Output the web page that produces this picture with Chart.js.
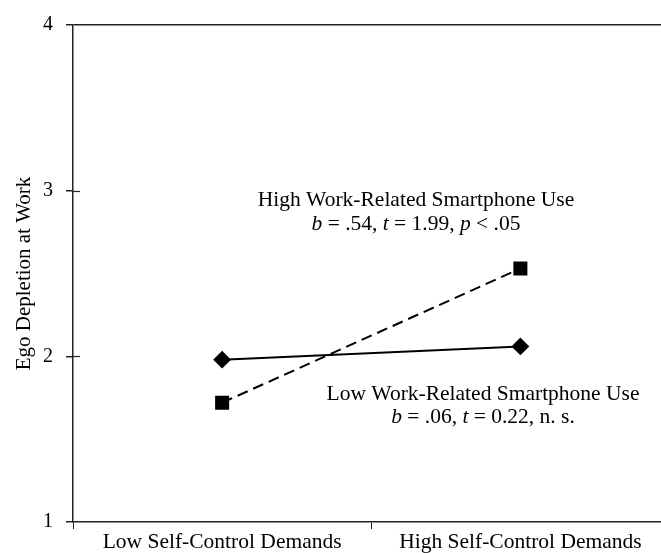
<!DOCTYPE html>
<html>
<head>
<meta charset="utf-8">
<script src="https://cdn.jsdelivr.net/npm/chart.js@4.4.0/dist/chart.umd.min.js"></script>
<style>
  html, body { margin: 0; padding: 0; background: #fff; overflow: hidden; }
</style>
</head>
<body>
<canvas id="myChart" width="680" height="553"></canvas>
<script>
const categories = ["Low Self-Control Demands", "High Self-Control Demands"];
const highUse = [1.72, 2.53];
const lowUse = [1.98, 2.06];
const yTicks = [1, 2, 3, 4];

const ink = "#222";
const serif = '"Liberation Serif", "Times New Roman", serif';

Chart.defaults.font.family = serif;
Chart.defaults.font.size = 20;
Chart.defaults.color = "#000";

// annotation text, italic for the statistic letters
const notes = [
  {
    dx: 343, dy: [181, 205],
    lines: [
      [{ t: "High Work-Related Smartphone Use" }],
      [{ t: "b", i: true }, { t: " = .54, " }, { t: "t", i: true }, { t: " = 1.99, " }, { t: "p", i: true }, { t: " < .05" }],
    ],
  },
  {
    dx: 410, dy: [375, 398],
    lines: [
      [{ t: "Low Work-Related Smartphone Use" }],
      [{ t: "b", i: true }, { t: " = .06, " }, { t: "t", i: true }, { t: " = 0.22, n. s." }],
    ],
  },
];

const notePlugin = {
  id: "notes",
  afterDatasetsDraw(chart) {
    const { ctx, chartArea } = chart;
    const y = chart.scales.y;
    ctx.save();
    // the middle y ticks cross the axis
    ctx.strokeStyle = ink;
    ctx.lineWidth = 1.2;
    [2, 3].forEach((v) => {
      const py = Math.round(y.getPixelForValue(v)) + 0.5;
      ctx.beginPath();
      ctx.moveTo(chartArea.left, py);
      ctx.lineTo(chartArea.left + 7, py);
      ctx.stroke();
    });

    ctx.fillStyle = "#000";
    ctx.textBaseline = "alphabetic";
    notes.forEach((n) => {
      n.lines.forEach((line, k) => {
        let w = 0;
        line.forEach((s) => {
          ctx.font = (s.i ? "italic " : "") + "21.5px " + serif;
          w += ctx.measureText(s.t).width;
        });
        let x = chartArea.left + n.dx - w / 2;
        const ty = chartArea.top + n.dy[k];
        line.forEach((s) => {
          ctx.font = (s.i ? "italic " : "") + "21.5px " + serif;
          ctx.fillText(s.t, x, ty);
          x += ctx.measureText(s.t).width;
        });
      });
    });
    ctx.restore();
  },
};

new Chart(document.querySelector("#myChart"), {
  type: "line",
  data: {
    labels: categories,
    datasets: [
      {
        label: "High Work-Related Smartphone Use",
        data: highUse,
        borderColor: "#000",
        backgroundColor: "#000",
        borderWidth: 2,
        borderDash: [11, 6],
        pointStyle: "rect",
        pointRadius: 8.5,
        pointHoverRadius: 8.5,
      },
      {
        label: "Low Work-Related Smartphone Use",
        data: lowUse,
        borderColor: "#000",
        backgroundColor: "#000",
        borderWidth: 2,
        pointStyle: "rectRot",
        pointRadius: 7.5,
        pointHoverRadius: 7.5,
      },
    ],
  },
  options: {
    responsive: false,
    animation: false,
    layout: { padding: { left: 0, top: 23, right: 9, bottom: 0 } },
    plugins: {
      legend: { display: false },
      tooltip: { enabled: false },
    },
    scales: {
      x: {
        offset: true,
        grid: {
          offset: true,
          drawOnChartArea: false,
          tickColor: ink,
          tickLength: 7,
        },
        border: { display: true, color: ink, width: 1.5 },
        ticks: { color: "#000", padding: 0, maxRotation: 0, font: { size: 21.5 } },
        afterFit(scale) { scale.height = 31; },
      },
      y: {
        min: 1,
        max: 4,
        afterBuildTicks(scale) { scale.ticks = yTicks.map((v) => ({ value: v })); },
        grid: {
          color: (c) => (c.tick && c.tick.value === 4 ? ink : "transparent"),
          lineWidth: 1.5,
          tickColor: ink,
          tickLength: 7,
        },
        border: { display: true, color: ink, width: 1.5 },
        ticks: { color: "#000", padding: 13 },
        title: {
          display: true,
          text: "Ego Depletion at Work",
          color: "#000",
          font: { size: 21 },
          padding: { top: 12, bottom: 0 },
        },
        afterFit(scale) { scale.width = 73; },
      },
    },
  },
  plugins: [notePlugin],
});
</script>
</body>
</html>
